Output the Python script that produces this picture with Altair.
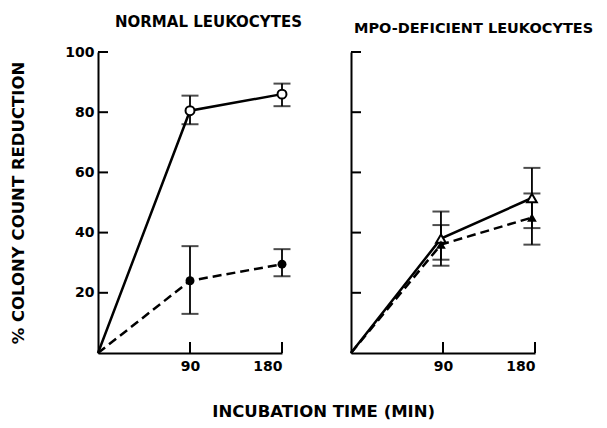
import altair as alt
import pandas as pd

# ---- data ----
time_normal = [0, 90, 180]
normal_open = [0, 80.5, 86]
normal_open_lo = [0, 76, 82]
normal_open_hi = [0, 85.5, 89.5]
normal_filled = [0, 24, 29.5]
normal_filled_lo = [0, 13, 25.5]
normal_filled_hi = [0, 35.5, 34.5]

time_mpo = [0, 88, 177]
mpo_open = [0, 38, 51.5]
mpo_open_lo = [0, 29, 41.5]
mpo_open_hi = [0, 47, 61.5]
mpo_filled = [0, 36, 45]
mpo_filled_lo = [0, 31, 36]
mpo_filled_hi = [0, 42.5, 53]

y_ticks = [20, 40, 60, 80, 100]
x_ticks = [90, 180]

FONT = "DejaVu Sans"
W, H = 184, 301


def panel(times, o, olo, ohi, f, flo, fhi, oshape, fshape, msize, title, tdx, tsize, labels):
    d_open = pd.DataFrame({"t": times, "v": o, "lo": olo, "hi": ohi})
    d_fill = pd.DataFrame({"t": times, "v": f, "lo": flo, "hi": fhi})
    xs = alt.Scale(domain=[0, 180], nice=False)
    ys = alt.Scale(domain=[0, 100], nice=False)
    xax = alt.Axis(values=x_ticks, ticks=False, grid=False, domainColor="black",
                   domainWidth=2, labelFont=FONT, labelFontSize=14, labelFontWeight="bold",
                   labelColor="black", labelPadding=6, title=None)
    if labels:
        yax = alt.Axis(values=y_ticks, ticks=False, grid=False, domainColor="black",
                       domainWidth=2, labelFont=FONT, labelFontSize=14, labelFontWeight="bold",
                       labelColor="black", labelPadding=4,
                       title="% COLONY  COUNT  REDUCTION", titleFont=FONT, titleFontSize=16.5,
                       titleFontWeight="bold", titleColor="black", titlePadding=38.5)
    else:
        yax = alt.Axis(values=y_ticks, ticks=False, grid=False, labels=False,
                       domainColor="black", domainWidth=2, title=None)
    X = alt.X("t:Q", scale=xs, axis=xax)
    Y = alt.Y("v:Q", scale=ys, axis=yax)

    line_o = alt.Chart(d_open).mark_line(color="black", strokeWidth=2.5).encode(x=X, y=Y)
    line_f = alt.Chart(d_fill).mark_line(color="black", strokeWidth=2.5,
                                         strokeDash=[9, 5]).encode(x=X, y=Y)
    layers = [line_o, line_f]
    for d in (d_open, d_fill):
        dd = d[d["t"] > 0]
        layers.append(alt.Chart(dd).mark_rule(color="black", strokeWidth=1.8).encode(
            x=alt.X("t:Q", scale=xs), y=alt.Y("lo:Q", scale=ys), y2="hi:Q"))
        for c in ("lo", "hi"):
            layers.append(alt.Chart(dd).mark_tick(orient="horizontal", color="black",
                                                  size=17, thickness=2).encode(
                x=alt.X("t:Q", scale=xs), y=alt.Y(f"{c}:Q", scale=ys)))
    layers.append(alt.Chart(d_open[d_open["t"] > 0]).mark_point(
        shape=oshape, filled=True, fill="white", stroke="black", strokeWidth=2,
        size=msize, opacity=1).encode(x=alt.X("t:Q", scale=xs), y=alt.Y("v:Q", scale=ys)))
    layers.append(alt.Chart(d_fill[d_fill["t"] > 0]).mark_point(
        shape=fshape, filled=True, color="black", size=msize, opacity=1).encode(
        x=alt.X("t:Q", scale=xs), y=alt.Y("v:Q", scale=ys)))
    # inward ticks
    layers.append(alt.Chart(pd.DataFrame({"y": y_ticks})).mark_rule(
        color="black", strokeWidth=2).encode(
        y=alt.Y("y:Q", scale=ys), x=alt.value(0), x2=alt.value(10)))
    layers.append(alt.Chart(pd.DataFrame({"x": x_ticks})).mark_rule(
        color="black", strokeWidth=2).encode(
        x=alt.X("x:Q", scale=xs), y=alt.value(H), y2=alt.value(H - 11)))
    return alt.layer(*layers).properties(
        width=W, height=H,
        title=alt.TitleParams(title, anchor="start", frame="group", dx=tdx, font=FONT,
                              fontSize=tsize, fontWeight="bold", color="black", offset=15))


left = panel(time_normal, normal_open, normal_open_lo, normal_open_hi,
             normal_filled, normal_filled_lo, normal_filled_hi,
             "circle", "circle", 80, "NORMAL  LEUKOCYTES", 17, 15, True)
right = panel(time_mpo, mpo_open, mpo_open_lo, mpo_open_hi,
              mpo_filled, mpo_filled_lo, mpo_filled_hi,
              "triangle-up", "triangle-up", 95, "MPO-DEFICIENT LEUKOCYTES", 3, 14.5, False)

chart = alt.hconcat(left, right, spacing=38).properties(
    title=alt.TitleParams("INCUBATION  TIME  (MIN)", orient="bottom", anchor="middle",
                          font=FONT, fontSize=16.5, fontWeight="bold", color="black",
                          offset=31, dx=22),
    padding={"left": 2, "top": 7, "right": 0, "bottom": 0},
).configure(background="white").configure_view(
    strokeWidth=0, stroke="transparent").configure_axis(grid=False)

chart.save("out.html", embed_options={"renderer": "svg", "actions": False})
